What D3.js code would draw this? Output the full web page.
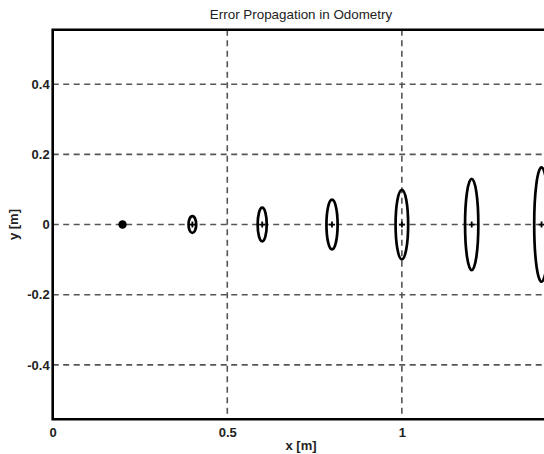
<!DOCTYPE html>
<html>
<head>
<meta charset="utf-8">
<script src="https://cdn.jsdelivr.net/npm/d3@7"></script>
<style>
  html, body { margin: 0; padding: 0; background: #fff; overflow: hidden; }
  svg { display: block; font-family: "Liberation Sans", Arial, Helvetica, sans-serif; }
</style>
</head>
<body>
<div id="chartContainer"></div>
<script>
// ----- Data (poses along x, with 1-sigma error ellipse half-axes in metres)
const poseX = [0.2, 0.4, 0.6, 0.8, 1.0, 1.2, 1.4];
const poseY = [0, 0, 0, 0, 0, 0, 0];
const errX  = [0, 0.011, 0.013, 0.016, 0.018, 0.019, 0.021];
const errY  = [0, 0.024, 0.048, 0.071, 0.099, 0.13, 0.163];

const xTicks = [0, 0.5, 1];
const yTicks = [-0.4, -0.2, 0, 0.2, 0.4];
const xTickLabels = ["0", "0.5", "1"];
const yTickLabels = ["-0.4", "-0.2", "0", "0.2", "0.4"];

const poses = poseX.map((x, i) => ({ x: x, y: poseY[i], ex: errX[i], ey: errY[i] }));

// ----- Geometry
const width = 544, height = 454;
const margin = { top: 29.8, left: 52.7, bottom: 34.7 };
const plotRight = 552;

const xScale = d3.scaleLinear().domain([0, 1.43]).range([margin.left, plotRight]);
const yScale = d3.scaleLinear().domain([-0.555, 0.555]).range([height - margin.bottom, margin.top]);

const svg = d3.select("#chartContainer")
  .append("svg")
  .attr("width", width)
  .attr("height", height);

// grid lines (dashed)
const grid = svg.append("g")
  .attr("stroke", "#555")
  .attr("stroke-width", 1.6)
  .attr("stroke-dasharray", "6,4.5");

grid.selectAll("line.vgrid")
  .data(xTicks.filter(d => d > 0))
  .join("line")
    .attr("class", "vgrid")
    .attr("x1", d => xScale(d)).attr("x2", d => xScale(d))
    .attr("y1", yScale.range()[1]).attr("y2", yScale.range()[0]);

grid.selectAll("line.hgrid")
  .data(yTicks)
  .join("line")
    .attr("class", "hgrid")
    .attr("x1", margin.left).attr("x2", plotRight)
    .attr("y1", d => yScale(d)).attr("y2", d => yScale(d));

// error ellipses
const marks = svg.append("g");

marks.selectAll("ellipse.err")
  .data(poses.filter(d => d.ey > 0))
  .join("ellipse")
    .attr("class", "err")
    .attr("cx", d => xScale(d.x))
    .attr("cy", d => yScale(d.y))
    .attr("rx", d => xScale(d.ex) - xScale(0))
    .attr("ry", d => yScale(0) - yScale(d.ey))
    .attr("fill", "none")
    .attr("stroke", "#000")
    .attr("stroke-width", 2.7);

// centre markers (small plus)
marks.selectAll("path.centre")
  .data(poses.filter(d => d.ey > 0))
  .join("path")
    .attr("class", "centre")
    .attr("d", d => {
      const cx = xScale(d.x), cy = yScale(d.y), s = 3;
      return `M${cx - s},${cy}H${cx + s}M${cx},${cy - s}V${cy + s}`;
    })
    .attr("stroke", "#000")
    .attr("stroke-width", 1.8);

marks.selectAll("circle.start")
  .data(poses.filter(d => d.ey === 0))
  .join("circle")
    .attr("class", "start")
    .attr("cx", d => xScale(d.x))
    .attr("cy", d => yScale(d.y))
    .attr("r", 4.2)
    .attr("fill", "#000");

// axes frame
const frame = svg.append("g")
  .attr("stroke", "#000")
  .attr("stroke-width", 2.6)
  .attr("fill", "none");
frame.append("path")
  .attr("d", `M${plotRight + 10},${yScale.range()[1]}H${margin.left}V${yScale.range()[0]}H${plotRight + 10}`);

// tick labels
const xAxis = d3.axisBottom(xScale)
  .tickValues(xTicks)
  .tickSize(0)
  .tickPadding(8)
  .tickFormat((d, i) => xTickLabels[i]);
svg.append("g")
  .attr("transform", `translate(0,${yScale.range()[0]})`)
  .call(xAxis)
  .call(g => g.select(".domain").remove())
  .call(g => g.selectAll(".tick text")
    .attr("font-size", 13)
    .attr("font-weight", "bold")
    .attr("fill", "#222"));

const yAxis = d3.axisLeft(yScale)
  .tickValues(yTicks)
  .tickSize(0)
  .tickPadding(3)
  .tickFormat((d, i) => yTickLabels[i]);
svg.append("g")
  .attr("transform", `translate(${margin.left},0)`)
  .call(yAxis)
  .call(g => g.select(".domain").remove())
  .call(g => g.selectAll(".tick text")
    .attr("font-size", 13)
    .attr("font-weight", "bold")
    .attr("fill", "#222"));

// titles
svg.append("text")
  .attr("x", 301)
  .attr("y", 18.5)
  .attr("text-anchor", "middle")
  .attr("font-size", 13.4)
  .attr("fill", "#222")
  .text("Error Propagation in Odometry");

svg.append("text")
  .attr("x", 301)
  .attr("y", 450)
  .attr("text-anchor", "middle")
  .attr("font-size", 13)
  .attr("font-weight", "bold")
  .attr("fill", "#222")
  .text("x [m]");

svg.append("text")
  .attr("transform", `translate(18,${yScale(0)}) rotate(-90)`)
  .attr("text-anchor", "middle")
  .attr("font-size", 13)
  .attr("font-weight", "bold")
  .attr("fill", "#222")
  .text("y [m]");
</script>
</body>
</html>
